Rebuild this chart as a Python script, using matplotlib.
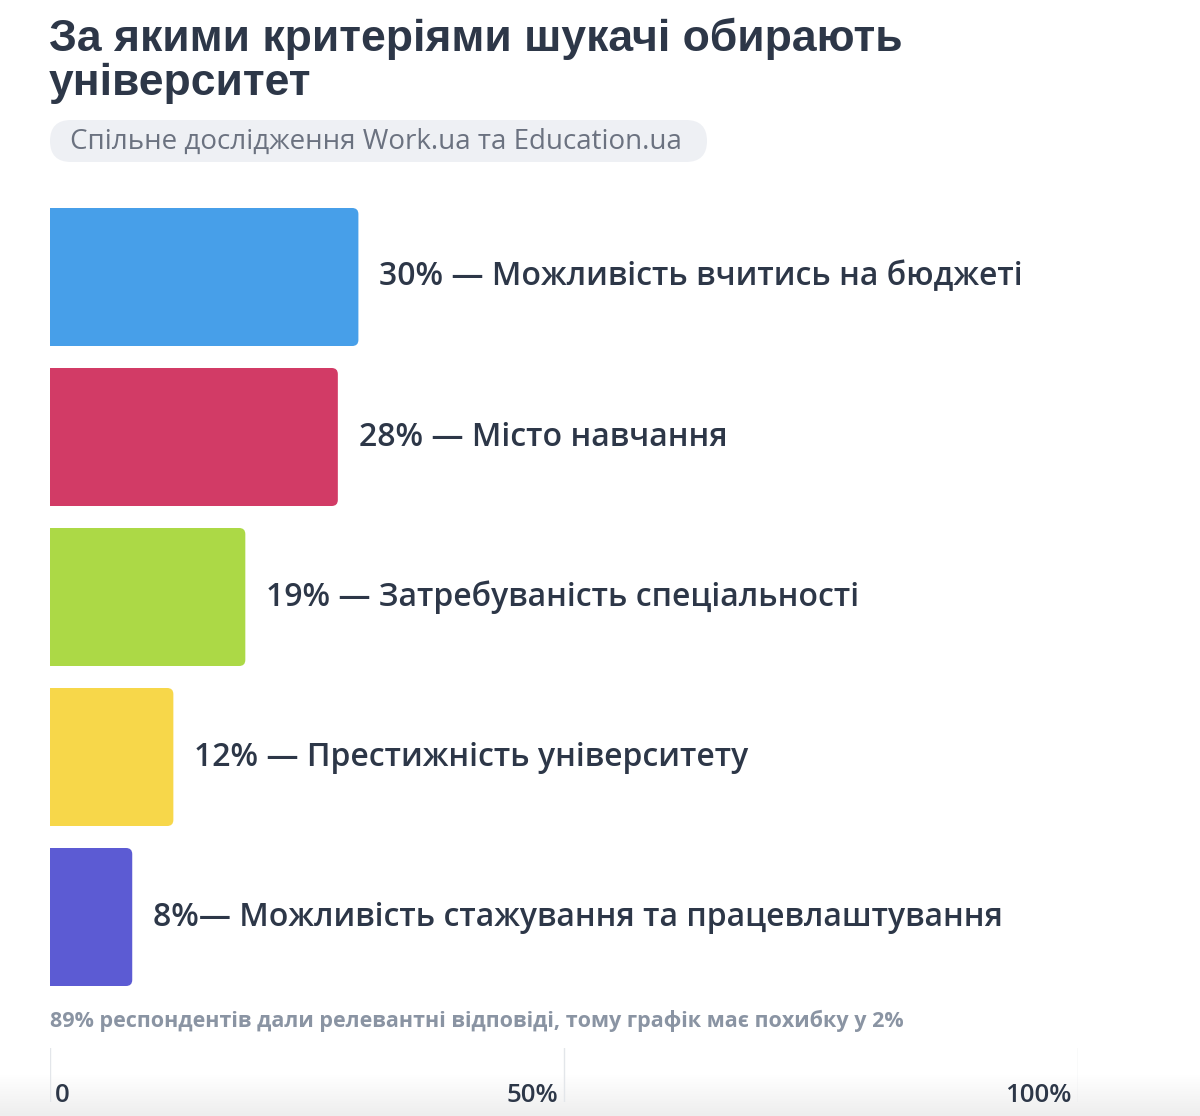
import matplotlib
matplotlib.use("Agg")
import matplotlib.pyplot as plt
from matplotlib.patches import FancyBboxPatch
import numpy as np

categories = ["Можливість вчитись на бюджеті", "Місто навчання",
              "Затребуваність спеціальності", "Престижність університету",
              "Можливість стажування та працевлаштування"]
values = [30, 28, 19, 12, 8]
colors = ["#479fe9", "#d23b66", "#acd946", "#f7d74a", "#5c5bd3"]
separators = [" — ", " — ", " — ", " — ", "— "]
axis_ticks = [0, 50, 100]
axis_labels = ["0", "50%", "100%"]

title_lines = ["За якими критеріями шукачі обирають", "університет"]
subtitle = "Спільне дослідження Work.ua та Education.ua"
footnote = "89% респондентів дали релевантні відповіді, тому графік має похибку у 2%"

W, H = 1200, 1116
fig = plt.figure(figsize=(W / 100, H / 100), dpi=100)
fig.patch.set_facecolor("white")
TFONT = ["Liberation Sans", "DejaVu Sans"]
FONT = ["Open Sans", "DejaVu Sans"]
DARK = "#2d3748"

def fx(px):
    return px / W

def fy(py):
    return 1 - py / H

# bottom fade
bg = fig.add_axes([0, 0, 1, fy(1075)], zorder=-5)
grad = np.linspace(0, 1, 50).reshape(-1, 1)
bg.imshow(grad, aspect="auto",
          cmap=matplotlib.colors.LinearSegmentedColormap.from_list("g", ["white", "#eeeeee"]),
          extent=[0, 1, 0, 1], origin="upper")
bg.axis("off")

# title
for line, base in zip(title_lines, [51, 95]):
    fig.text(fx(49), fy(base), line, fontsize=32, fontweight="bold", color=DARK,
             family=TFONT, va="baseline", ha="left")

# subtitle pill
pill = FancyBboxPatch((fx(50), fy(162)), fx(707) - fx(50), fy(120) - fy(162),
                      boxstyle="round,pad=0,rounding_size=0.0175",
                      mutation_aspect=W / H, transform=fig.transFigure,
                      fc="#eef0f4", ec="none")
fig.patches.append(pill)
fig.text(fx(70), fy(142), subtitle, fontsize=20, color="#6b7280", family=FONT,
         va="center", ha="left")

# main bars
ax = fig.add_axes([fx(50), fy(997), fx(1078) - fx(50), fy(197) - fy(997)])
ax.set_xlim(0, 100)
ax.set_ylim(len(values) - 0.5, -0.5)
ax.axis("off")
bh = 138 / 160
px_per_x = (1078 - 50) / 100
px_per_y = 160
aspect = px_per_x / px_per_y
for i, (v, c) in enumerate(zip(values, colors)):
    p = FancyBboxPatch((-2, i - bh / 2), v + 2, bh,
                       boxstyle="round,pad=0,rounding_size=0.6",
                       mutation_aspect=aspect, fc=c, ec="none", clip_on=True)
    ax.add_patch(p)
    ax.text(v + 2.05, i, f"{v}%{separators[i]}{categories[i]}", fontsize=23,
            fontweight="semibold", color=DARK, family=FONT, va="center", ha="left")

# footnote
fig.text(fx(50), fy(1021), footnote, fontsize=15.5, fontweight="bold",
         color="#8a94a3", family=FONT, va="center", ha="left")

# bottom scale
ax2 = fig.add_axes([fx(50), fy(1102), fx(1078) - fx(50), fy(1048) - fy(1102)])
ax2.set_xlim(0, 100)
ax2.set_ylim(0, 1)
ax2.axis("off")
for t, lab in zip(axis_ticks, axis_labels):
    ax2.axvline(t, color="#e3e6ea", lw=1)
    if t == 0:
        ax2.text(t + 0.5, 0.0, lab, fontsize=18.5, fontweight="semibold", color=DARK,
                 family=FONT, ha="left", va="baseline")
    else:
        ax2.text(t - 0.6, 0.0, lab, fontsize=18.5, fontweight="semibold", color=DARK,
                 family=FONT, ha="right", va="baseline")

fig.savefig("out.png", dpi=100)
